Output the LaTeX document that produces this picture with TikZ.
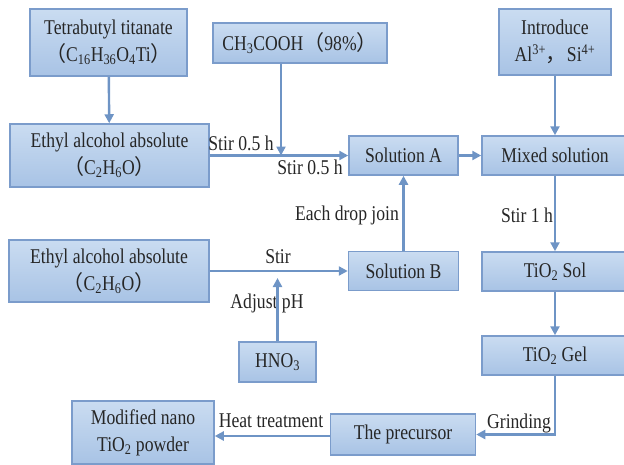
\documentclass[tikz,border=0pt]{standalone}
\usepackage{fontspec}
\setmainfont{Liberation Serif}[FakeStretch=0.84]
\newfontfamily\cjk{Noto Sans CJK SC}
\usetikzlibrary{arrows.meta}
\definecolor{boxline}{HTML}{7B9CCB}
\definecolor{boxtop}{HTML}{CADCF1}
\definecolor{boxbot}{HTML}{A8C3E5}
\definecolor{flow}{HTML}{6E94C5}
\newcommand{\sub}[1]{\textsubscript{#1}}
\newcommand{\fw}[1]{{\cjk #1}}

\begin{document}
\begin{tikzpicture}[x=1pt, y=-1pt,
  every node/.style={font=\fontsize{21}{27}\selectfont, text=black!85},
  stage/.style={draw=boxline, line width=1.5pt, top color=boxtop,
    bottom color=boxbot, align=center, inner sep=0pt},
  arr/.style={draw=flow, line width=2.4pt, -{Triangle[length=9pt,width=9pt]}}]
\useasboundingbox (0,0) rectangle (624,464);
\node[stage, minimum width=157, minimum height=67] (tbt) at (108.5,42.5)
  {Tetrabutyl titanate\\\fw{（}C\sub{16}H\sub{36}O\sub{4}Ti\fw{）}};
\node[stage, minimum width=174, minimum height=40] (acid) at (300,43)
  {CH\sub{3}COOH\fw{（}98\%\fw{）}};
\node[stage, minimum width=112, minimum height=66] (intro) at (555,42)
  {Introduce\\Al\textsuperscript{3+}\fw{，}Si\textsuperscript{4+}};
\node[stage, minimum width=199, minimum height=63] (eth1) at (109.5,155.5)
  {Ethyl alcohol absolute\\\fw{（}C\sub{2}H\sub{6}O\fw{）}};
\node[stage, minimum width=109, minimum height=39] (solA) at (403.5,155.5) {Solution A};
\node[stage, minimum width=146, minimum height=39] (mix) at (555,155.5) {Mixed solution};
\node[stage, minimum width=200, minimum height=62] (eth2) at (109,271)
  {Ethyl alcohol absolute\\\fw{（}C\sub{2}H\sub{6}O\fw{）}};
\node[stage, minimum width=110, minimum height=39] (solB) at (403.5,271) {Solution B};
\node[stage, minimum width=146, minimum height=39] (sol) at (555,271.5) {TiO\sub{2} Sol};
\node[stage, minimum width=146, minimum height=39] (gel) at (555,355.5) {TiO\sub{2} Gel};
\node[stage, minimum width=77, minimum height=40] (hno) at (277.5,362) {HNO\sub{3}};
\node[stage, minimum width=145, minimum height=41] (pre) at (403,434.5) {The precursor};
\node[stage, minimum width=142, minimum height=63] (mod) at (143,432.5)
  {Modified nano\\TiO\sub{2} powder};
\coordinate (j1) at (281,155.5);
\node (stirA) at (241,143) {Stir 0.5 h};
\node (stirB) at (310,167) {Stir 0.5 h};
\node (stir) at (278,257) {Stir};
\node (adj) at (267,303) {Adjust pH};
\node (drop) at (347,215) {Each drop join};
\node (stirC) at (527,215) {Stir 1 h};
\node (grind) at (519,423) {Grinding};
\node (heat) at (271,421) {Heat treatment};
\draw[arr] (tbt) -- (eth1);
\draw[arr] (acid.south -| j1) -- (j1);
\draw[arr] (eth1) -- (solA);
\draw[arr] (solA) -- (mix);
\draw[arr] (intro) -- (mix);
\draw[arr] (mix) -- (sol);
\draw[arr] (sol) -- (gel);
\draw[arr] (eth2) -- (solB);
\draw[arr, shorten >=7pt] (hno) -- (hno |- eth2);
\draw[arr] (solB) -- (solA);
\draw[arr] (gel) |- (pre);
\draw[arr] (pre.west |- 0,436) -- (mod.east |- 0,436);
\end{tikzpicture}
\end{document}
